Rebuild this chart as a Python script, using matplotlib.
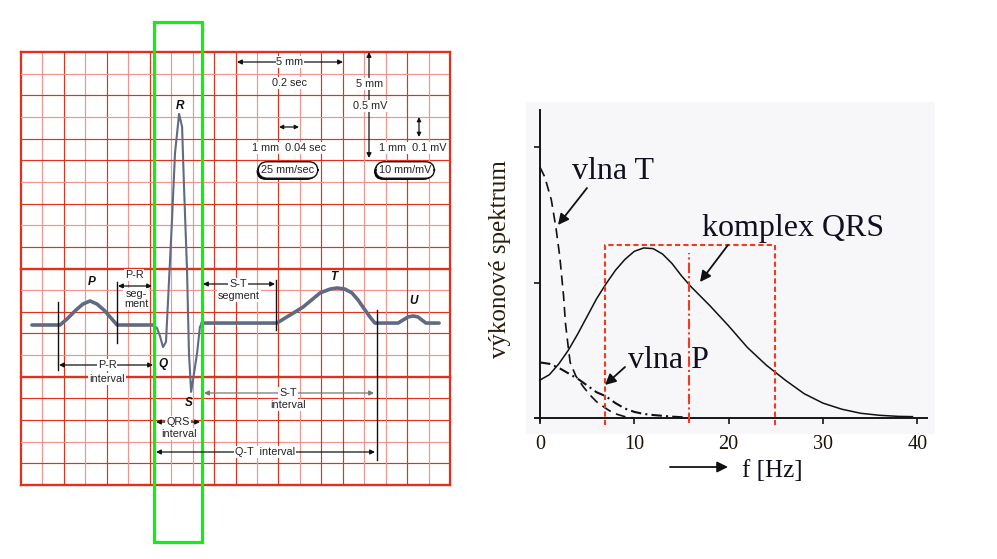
import numpy as np
import matplotlib
matplotlib.use("Agg")
import matplotlib.pyplot as plt
import matplotlib.patheffects as pe
from matplotlib.patches import Rectangle

W, H = 997, 559

# ECG trace on the paper, in mm (25 mm/s, 10 mm/mV), origin = bottom-left of grid
ecg_t = [0.51, 1.72, 1.82, 2.19, 2.56, 2.89, 3.22, 3.54, 3.87, 4.20, 4.48,
         6.15, 6.34, 6.48, 6.62, 6.76, 7.04, 7.18, 7.37, 7.51, 7.60, 7.74,
         7.83, 7.93, 8.02, 8.21, 8.34, 8.44, 11.93, 12.54, 13.15, 13.94,
         14.41, 14.73, 15.10, 15.43, 15.71, 15.94, 16.27, 16.50, 17.58,
         17.81, 18.04, 18.28, 18.51, 18.69, 18.88, 19.49]
ecg_v = [7.39, 7.39, 7.39, 7.71, 8.08, 8.36, 8.50, 8.36, 8.08, 7.71, 7.39,
         7.39, 7.25, 6.88, 6.37, 6.61, 12.24, 15.33, 17.14, 16.54, 13.76, 9.93,
         6.10, 4.30, 4.85, 6.10, 7.30, 7.48, 7.48, 7.85, 8.22, 8.87,
         9.05, 9.10, 9.05, 8.87, 8.55, 8.22, 7.76, 7.48, 7.48,
         7.62, 7.76, 7.81, 7.76, 7.62, 7.48, 7.48]
qrs_from, qrs_to = 6.15, 8.44
grid_n = 20
light_cols = [1, 3, 5, 7, 8, 11, 13, 16, 17, 19]
light_rows = [19, 17, 14, 12, 9, 6, 2]
thick_rows = [0, 5, 10, 20]

# power spectra (arbitrary units)
qrs_f = [0, 1, 2, 3, 4, 5, 6, 7, 8, 9, 10, 11, 12, 13, 14, 15, 16, 17, 18,
         20, 22, 24, 26, 28, 30, 32, 34, 36, 38, 39.5]
qrs_p = [0.28, 0.32, 0.40, 0.50, 0.62, 0.75, 0.88, 0.99, 1.09, 1.17, 1.23,
         1.255, 1.25, 1.21, 1.14, 1.05, 0.97, 0.90, 0.83, 0.68, 0.52, 0.39,
         0.28, 0.18, 0.11, 0.065, 0.035, 0.02, 0.012, 0.01]
t_f = [0, 0.5, 1.2, 1.7, 2.1, 2.5, 2.7, 3.0, 3.2, 3.8, 4.6, 5.3, 6.0, 7.0,
       7.8, 9.0, 10.0]
t_p = [1.85, 1.78, 1.61, 1.40, 1.19, 0.90, 0.70, 0.52, 0.41, 0.31, 0.23,
       0.17, 0.12, 0.07, 0.035, 0.01, 0.0]
p_f = [0, 1, 2, 3, 4, 5, 6, 7, 8, 9, 10, 11, 12, 13, 14, 15.5]
p_p = [0.41, 0.40, 0.37, 0.33, 0.29, 0.24, 0.19, 0.16, 0.11, 0.07, 0.045,
       0.03, 0.022, 0.016, 0.01, 0.004]
band_edges = [6.9, 15.8, 24.9]
band_top = 1.28
spec_xticks = [0, 10, 20, 30, 40]
spec_yticks = [1, 2]

fig = plt.figure(figsize=(W / 100, H / 100), dpi=100)
fig.patch.set_facecolor("white")

# ---- ECG paper ----
ax = fig.add_axes([21 / W, (H - 485) / H, 429 / W, 433 / H])
ax.set_xlim(0, grid_n)
ax.set_ylim(0, grid_n)
ax.axis("off")
dark, light = "#e2301c", "#f0948c"
for i in range(grid_n + 1):
    if i in (0, grid_n):
        ax.axvline(i, color=dark, lw=1.6, clip_on=False, zorder=1)
    else:
        ax.axvline(i, color=light if i in light_cols else dark, lw=0.85, zorder=1)
    if i in thick_rows:
        ax.axhline(i, color=dark, lw=1.7, clip_on=False, zorder=1.5)
    else:
        ax.axhline(i, color=light if i in light_rows else dark, lw=0.85, zorder=1)

t = np.array(ecg_t)
v = np.array(ecg_v)
trace = "#606a82"
mid = (t >= qrs_from) & (t <= qrs_to)
ax.plot(t[t <= qrs_from], v[t <= qrs_from], color=trace, lw=2.6,
        solid_capstyle="round", zorder=3)
ax.plot(t[t >= qrs_to], v[t >= qrs_to], color=trace, lw=2.6,
        solid_capstyle="round", zorder=3)
ax.plot(t[mid], v[mid], color=trace, lw=1.5, solid_joinstyle="round", zorder=3)

# ---- spectrum ----
bx = fig.add_axes([0, 0, 1, 1], zorder=0)
bx.axis("off")
bx.add_patch(Rectangle((526 / W, 1 - 434 / H), 409 / W, 332 / H,
                       transform=fig.transFigure, fc="#f7f7fa", ec="none"))

sx_per, sy_per = 9.43, 135.5
x0, y0 = 540, 418
ax2 = fig.add_axes([(x0 - 0.5 * sx_per) / W, (H - (y0 + 0.02 * sy_per)) / H,
                    41.5 * sx_per / W, ((y0 - 110) + 0.02 * sy_per) / H], zorder=2)
ax2.set_facecolor("none")
ax2.set_xlim(-0.5, 41)
ax2.set_ylim(-0.02, (y0 - 110) / sy_per)
for s in ("top", "right"):
    ax2.spines[s].set_visible(False)
for s in ("left", "bottom"):
    ax2.spines[s].set_position(("data", 0))
    ax2.spines[s].set_linewidth(1.4)
    ax2.spines[s].set_color("#151515")
ax2.set_xticks(spec_xticks)
ax2.set_yticks(spec_yticks)
ax2.set_yticklabels([])
ax2.tick_params(axis="x", direction="out", length=4, width=1.2, pad=8,
                labelsize=14.5, labelcolor="#1c1208", color="#151515")
ax2.tick_params(axis="y", direction="out", length=4, width=1.2, color="#151515")
for lab in ax2.get_xticklabels():
    lab.set_family("Liberation Serif")

ax2.plot(qrs_f, qrs_p, color="#111111", lw=1.1, zorder=3)
ax2.plot(t_f, t_p, color="#111111", lw=1.2, ls=(0, (6, 3.5)), zorder=3)
ax2.plot(p_f, p_p, color="#111111", lw=1.5, ls=(0, (5, 2, 1, 2)), zorder=3)

red = "#f23a1e"
ax2.plot([band_edges[0], band_edges[0], band_edges[2], band_edges[2]],
         [-0.05, band_top, band_top, -0.05], color=red, lw=1.5,
         ls=(0, (2.5, 1.5)), clip_on=False, zorder=4)
ax2.plot([band_edges[1], band_edges[1]], [-0.04, band_top - 0.06], color=red,
         lw=1.5, ls=(0, (5, 1.5, 1, 1.5)), clip_on=False, zorder=4)

# ---- overlay in pixel coordinates ----
ov = fig.add_axes([0, 0, 1, 1], zorder=5)
ov.set_xlim(0, W)
ov.set_ylim(H, 0)
ov.axis("off")

sans = "Liberation Sans"
serif = "Liberation Serif"
white = dict(fc="white", ec="none", pad=0.6)


def label(x, y, s, **kw):
    opts = dict(ha="center", va="center", family=sans, fontsize=7.8,
                color="#222222", bbox=white)
    opts.update(kw)
    return ov.text(x, y, s, **opts)


def arrow(x1, y1, x2, y2, style="<|-|>", color="#111111", lw=0.9, ms=7):
    ov.annotate("", xy=(x2, y2), xytext=(x1, y1),
                arrowprops=dict(arrowstyle=style, color=color, lw=lw,
                                mutation_scale=ms, shrinkA=0, shrinkB=0))


def vline(x, ya, yb, color="#111111"):
    ov.plot([x, x], [ya, yb], color=color, lw=1.0)


# calibration marks
arrow(237, 62, 343, 62)
label(290, 62, "5 mm")
label(289, 83, "0.2 sec")
arrow(369, 52, 369, 158)
label(370, 84, "5 mm")
label(370, 106, "0.5 mV")
arrow(279, 127, 299, 127, ms=6)
label(289, 148, "1 mm  0.04 sec")
arrow(419, 117, 419, 137, ms=6)
label(413, 148, "1 mm  0.1 mV")
for x, s in ((288, "25 mm/sec"), (405, "10 mm/mV")):
    tx = ov.text(x, 170, s, ha="center", va="center", family=sans, fontsize=7.8,
                 color="#222222",
                 bbox=dict(boxstyle="round,pad=0.3,rounding_size=0.85",
                           fc="white", ec="#111111", lw=1.0))
    tx.get_bbox_patch().set_path_effects(
        [pe.withSimplePatchShadow(offset=(-1.2, -1.2), shadow_rgbFace="k", alpha=1)])

# wave letters
for x, y, s in ((92, 282, "P"), (180, 106, "R"), (163, 364, "Q"),
                (189, 403, "S"), (334, 277, "T"), (414, 301, "U")):
    ov.text(x, y, s, ha="center", va="center", family=sans, fontsize=8.5,
            fontweight="bold", fontstyle="italic", color="#111111")

# intervals
vline(117, 282, 343)
arrow(118, 286, 152, 286)
label(134, 275, "P-R")
label(136, 299, "seg-\nment", linespacing=0.95)

vline(276, 280, 330)
arrow(203, 284, 275, 284)
label(238, 284, "S-T")
label(239, 296, "segment")

vline(58, 302, 370)
arrow(59, 365, 153, 365)
label(107, 365, "P-R")
label(107, 379, "interval")

vline(377, 310, 460)
arrow(204, 393, 374, 393, color="#777777")
label(288, 393, "S-T")
label(288, 405, "interval")

arrow(156, 422, 200, 422)
label(178, 422, "QRS")
label(179, 434, "interval")

arrow(156, 452, 375, 452)
label(265, 452, "Q-T  interval")

ov.add_patch(Rectangle((154, 22), 48, 520, fc="none", ec="#12ee12", lw=2.3))

# spectrum texts
txt = "#10101e"
ov.text(572, 179, "vlna T", family=serif, fontsize=23, color=txt, va="baseline")
ov.text(702, 236, "komplex QRS", family=serif, fontsize=23, color=txt, va="baseline")
ov.text(628, 368, "vlna P", family=serif, fontsize=23, color=txt, va="baseline")
sp_arrow = dict(arrowstyle="-|>", color="#111111", lw=1.3, mutation_scale=16,
                shrinkA=0, shrinkB=0)
ov.annotate("", xy=(558, 225), xytext=(587, 188), arrowprops=sp_arrow)
ov.annotate("", xy=(700, 282), xytext=(728, 245), arrowprops=sp_arrow)
ov.annotate("", xy=(605, 385), xytext=(625, 367), arrowprops=sp_arrow)
ov.annotate("", xy=(728, 467), xytext=(670, 467), arrowprops=sp_arrow)
ov.text(742, 477, "f [Hz]", family=serif, fontsize=18, color=txt, va="baseline")
ov.text(500, 259, "výkonové spektrum", family=serif, fontsize=18,
        color="#2a1c0c", rotation=90, ha="center", va="center")

fig.savefig("out.png", dpi=100, facecolor="white")
